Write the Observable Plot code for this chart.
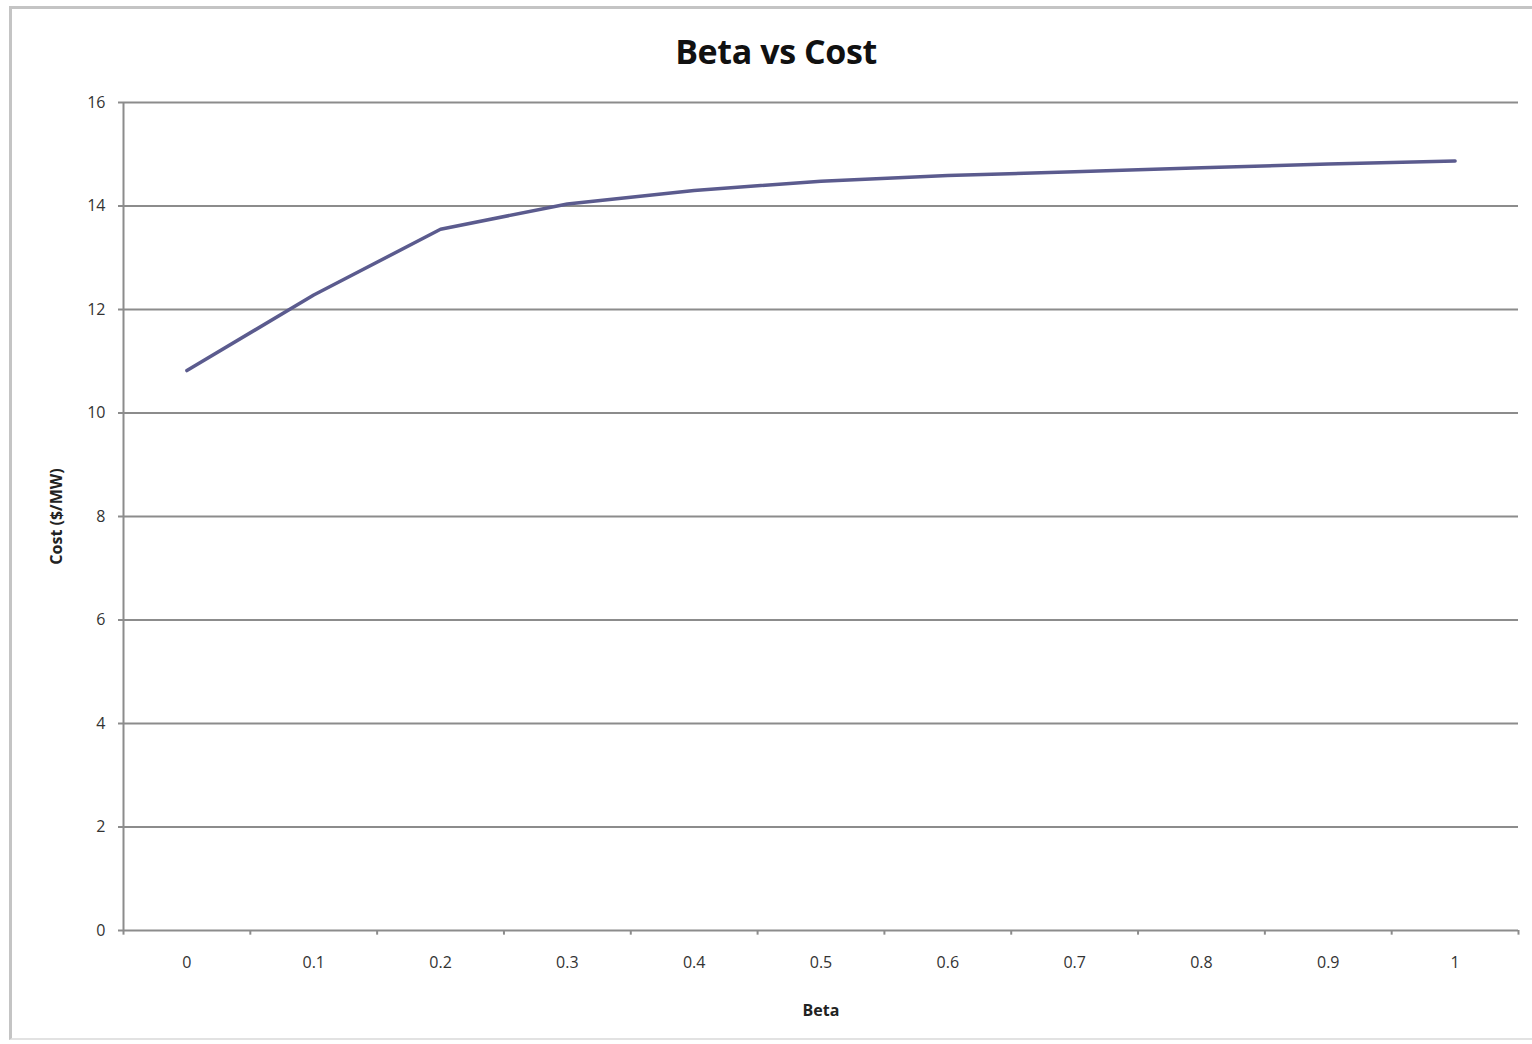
<!DOCTYPE html>
<html>
<head>
<meta charset="utf-8">
<script src="https://cdn.jsdelivr.net/npm/d3@7"></script>
<script src="https://cdn.jsdelivr.net/npm/@observablehq/plot@0.6"></script>
<style>
  html, body { margin: 0; padding: 0; background: #fff; }
  #page { position: relative; width: 1532px; height: 1044px; overflow: hidden; font-family: "Open Sans", sans-serif; }
  #frame { position: absolute; left: 9px; top: 6px; width: 1530px; height: 1034px; border-left: 3px solid #c4c4c4; border-top: 3px solid #c4c4c4; border-bottom: 2px solid #e2e2e2; box-sizing: border-box; }
  #title { position: absolute; left: 0; width: 1552px; top: 28px; text-align: center; font-size: 34px; font-weight: 700; color: #111; letter-spacing: -0.4px; }
  #chart { position: absolute; left: 0; top: 80px; }
</style>
</head>
<body>
<div id="page">
  <div id="frame"></div>
  <div id="title">Beta vs Cost</div>
  <div id="chart"></div>
</div>
<script>
// Beta categories and the corresponding cost values
const betas = [0, 0.1, 0.2, 0.3, 0.4, 0.5, 0.6, 0.7, 0.8, 0.9, 1];
const costs = [10.82, 12.28, 13.55, 14.04, 14.30, 14.48, 14.59, 14.66, 14.74, 14.81, 14.87];
const yTicks = [0, 2, 4, 6, 8, 10, 12, 14, 16];
const xLabel = "Beta";
const yLabel = "Cost ($/MW)";

const data = betas.map((b, i) => ({beta: b, cost: costs[i]}));
const step = betas[1] - betas[0];
// category boundaries between the beta values
const bounds = [...betas.map(b => b - step / 2), betas[betas.length - 1] + step / 2];

const gray = "#8c8c8c";
const chart = Plot.plot({
  width: 1532,
  height: 964,
  marginTop: 22,
  marginBottom: 114,
  marginLeft: 123,
  marginRight: 14,
  style: {fontFamily: "Open Sans, sans-serif", fontSize: "16px", color: "#333", background: "transparent"},
  x: {domain: [bounds[0], bounds[bounds.length - 1]], axis: null},
  y: {domain: [0, 16], axis: null},
  marks: [
    Plot.gridY(yTicks, {stroke: gray, strokeOpacity: 1, strokeWidth: 2}),
    Plot.ruleX(bounds, {x: d => d, y1: 0, y2: -0.09, stroke: gray, strokeWidth: 2}),
    Plot.ruleX([bounds[0]], {stroke: gray, strokeWidth: 2}),
    Plot.axisY(yTicks, {tickSize: 5, tickPadding: 13, stroke: gray, strokeWidth: 2, tickFormat: d => String(d), label: null, fill: "#333", fontSize: 16}),
    Plot.axisX(betas, {tickSize: 0, tickPadding: 26, tickFormat: d => String(d), label: null, fill: "#333", fontSize: 16}),
    Plot.line(data, {x: "beta", y: "cost", stroke: "#5b5b8e", strokeWidth: 3.5, strokeLinejoin: "round", strokeLinecap: "round"}),
    Plot.text([yLabel], {frameAnchor: "left", textAnchor: "middle", lineAnchor: "middle", dx: -67, rotate: -90, fontWeight: "bold", fontSize: 16, fill: "#222"}),
    Plot.text([xLabel], {frameAnchor: "bottom", lineAnchor: "middle", dy: 80, fontWeight: "bold", fontSize: 16, fill: "#222"})
  ]
});
document.getElementById("chart").appendChild(chart);
</script>
</body>
</html>
